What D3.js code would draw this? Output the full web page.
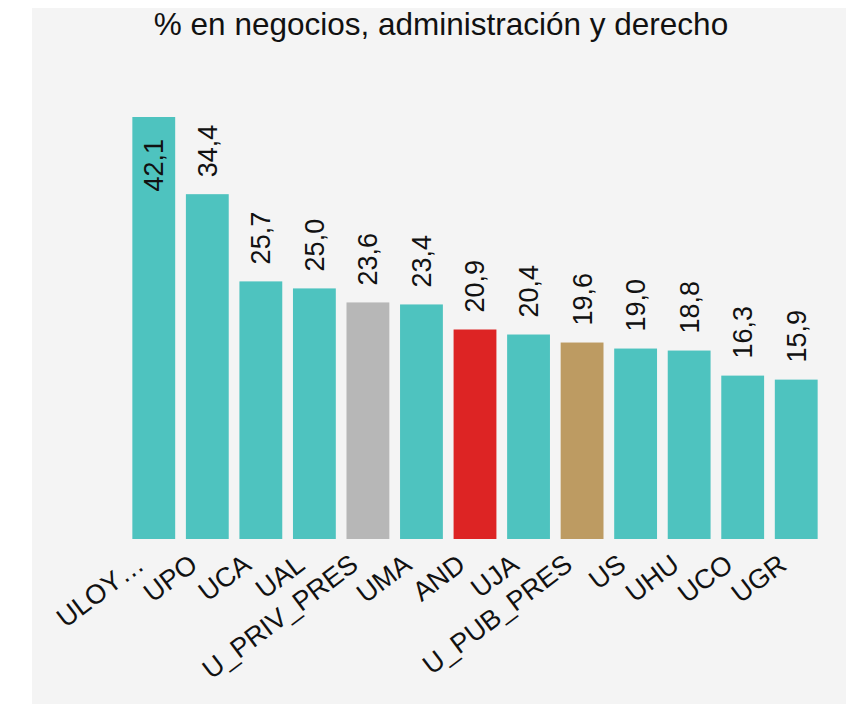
<!DOCTYPE html>
<meta charset="utf-8">
<script src="https://d3js.org/d3.v7.min.js"></script>
<style>
  body { margin: 0; background: #fff; }
  text { font-family: "Liberation Sans", Arial, sans-serif; fill: #111; }
</style>
<div id="chart"></div>
<script>
// data
const universidades = ["ULOY\u2026", "UPO", "UCA", "UAL", "U_PRIV_PRES", "UMA", "AND", "UJA", "U_PUB_PRES", "US", "UHU", "UCO", "UGR"];
const porcentajes = [42.1, 34.4, 25.7, 25.0, 23.6, 23.4, 20.9, 20.4, 19.6, 19.0, 18.8, 16.3, 15.9];
const colores = ["#4ec3bf", "#4ec3bf", "#4ec3bf", "#4ec3bf", "#b7b7b7", "#4ec3bf", "#dd2424", "#4ec3bf", "#bd9b62", "#4ec3bf", "#4ec3bf", "#4ec3bf", "#4ec3bf"];
const titulo = "% en negocios, administración y derecho";

const width = 846, height = 704;
const svg = d3.select("#chart").append("svg")
  .attr("width", width)
  .attr("height", height);

// gray panel
svg.append("rect")
  .attr("x", 32).attr("y", 8)
  .attr("width", width - 32).attr("height", height - 8)
  .attr("fill", "#f4f4f4");

svg.append("text")
  .attr("x", 441).attr("y", 35)
  .attr("text-anchor", "middle")
  .style("font-size", "31.5px")
  .text(titulo);

const x = d3.scaleBand()
  .domain(universidades)
  .range([127, 823])
  .paddingInner(0.2)
  .paddingOuter(0.1);

const y = d3.scaleLinear()
  .domain([0, d3.max(porcentajes)])
  .range([539, 117]);

const es = d3.formatLocale({decimal: ",", thousands: ".", grouping: [3], currency: ["", "€"]});
const fmt = es.format(".1f");

const data = universidades.map((u, i) => ({u: u, v: porcentajes[i], c: colores[i]}));

svg.selectAll("rect.bar")
  .data(data)
  .join("rect")
    .attr("class", "bar")
    .attr("x", d => x(d.u))
    .attr("y", d => y(d.v))
    .attr("width", x.bandwidth())
    .attr("height", d => y(0) - y(d.v))
    .attr("fill", d => d.c);

// value labels, the biggest one goes inside the bar
svg.selectAll("text.valor")
  .data(data)
  .join("text")
    .attr("class", "valor")
    .attr("transform", (d, i) => {
      const cx = x(d.u) + x.bandwidth() / 2;
      const yy = i === 0 ? y(d.v) + 22 : y(d.v) - 17;
      return `translate(${cx},${yy}) rotate(-90)`;
    })
    .attr("dy", "0.35em")
    .attr("text-anchor", (d, i) => i === 0 ? "end" : "start")
    .style("font-size", "27px")
    .text(d => fmt(d.v));

// category labels
svg.selectAll("text.cat")
  .data(data)
  .join("text")
    .attr("class", "cat")
    .attr("transform", d => `translate(${x(d.u) + x.bandwidth() / 2 - 8},${y(0) + 29}) rotate(-37)`)
    .attr("text-anchor", "end")
    .style("font-size", "27px")
    .text(d => d.u);
</script>
